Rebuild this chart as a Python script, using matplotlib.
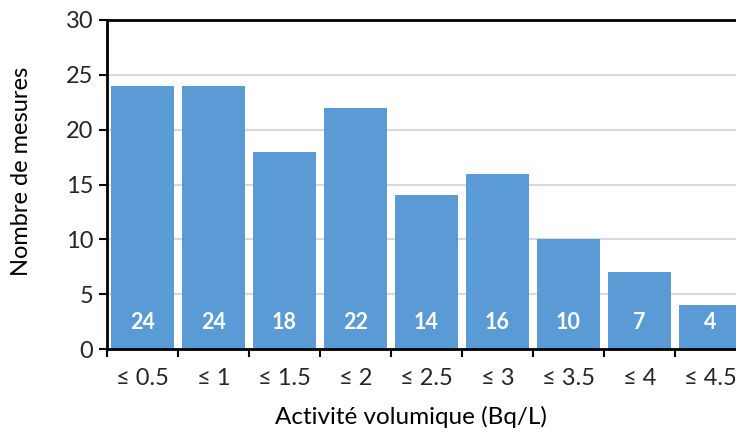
import matplotlib.pyplot as plt

# data
classes = ["≤ 0.5", "≤ 1", "≤ 1.5", "≤ 2", "≤ 2.5", "≤ 3", "≤ 3.5", "≤ 4", "≤ 4.5"]
counts = [24, 24, 18, 22, 14, 16, 10, 7, 4]

plt.rcParams['font.family'] = ['Lato', 'DejaVu Sans']
plt.rcParams['text.color'] = '#262626'
plt.rcParams['xtick.labelcolor'] = '#262626'
plt.rcParams['ytick.labelcolor'] = '#262626'

fig = plt.figure(figsize=(7.36, 4.32), dpi=100)
# axes runs a bit past the right edge (the original picture is cropped)
ax = fig.add_axes([107/736, 1-349/432, 639/736, 329/432])

x = list(range(len(classes)))
ax.bar(x, counts, width=0.9, color='#5B9BD5', zorder=2)
for xi, c in zip(x, counts):
    ax.text(xi, 2.45, str(c), ha='center', va='center', color='white',
            fontsize=15.5, fontweight='bold', zorder=3)

ax.set_xlim(-0.5, len(classes) - 0.5)
ax.set_ylim(0, 30)
ax.set_yticks(range(0, 31, 5))
ax.set_xticks(x)
ax.set_xticklabels(classes)
ax.set_xticks([i + 0.5 for i in range(-1, len(classes))], minor=True)
ax.tick_params(axis='x', which='major', length=0, pad=14, labelsize=17)
ax.tick_params(axis='x', which='minor', length=6, width=1.5, color='black', direction='out')
ax.tick_params(axis='y', length=6, width=1.5, labelsize=17, pad=4)

ax.grid(axis='y', color='#d9d9d9', linewidth=1.5, zorder=0)
for s in ['left', 'bottom', 'top']:
    ax.spines[s].set_linewidth(2)
    ax.spines[s].set_color('black')
ax.spines['right'].set_visible(False)

ax.set_ylabel("Nombre de mesures", fontsize=17, va='center')
ax.yaxis.set_label_coords((22-107)/639, (349-171)/329)
ax.set_xlabel("Activité volumique (Bq/L)", fontsize=17.5, va='center')
ax.xaxis.set_label_coords((411-107)/639, (349-417)/329)

fig.savefig("out.png", dpi=100)
